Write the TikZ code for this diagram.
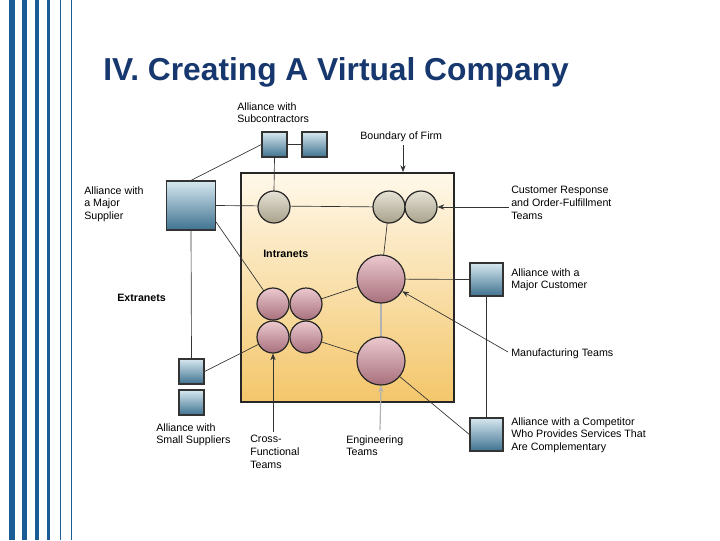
\documentclass[tikz,border=0pt]{standalone}
\usepackage{fontspec}
\setmainfont{Liberation Sans}
\usetikzlibrary{arrows.meta}
\definecolor{stripe}{HTML}{1B5C97}
\definecolor{titlec}{HTML}{17386E}
\definecolor{sqtop}{HTML}{D6E8F0}
\definecolor{sqbot}{HTML}{3F7290}
\definecolor{firmtop}{HTML}{FFF8EA}
\definecolor{firmbot}{HTML}{F3C66A}
\definecolor{greyhi}{HTML}{E6E2D4}
\definecolor{greylo}{HTML}{A8A28C}
\definecolor{pinkhi}{HTML}{EBC9CE}
\definecolor{pinklo}{HTML}{A8707C}
\tikzset{
  sq/.style={draw=black!80, line width=0.9pt, top color=sqtop, bottom color=sqbot, inner sep=0, minimum size=#1},
  gb/.style={circle, draw=black!85, line width=0.9pt, top color=greyhi, bottom color=greylo, inner sep=0, minimum size=32*0.75pt},
  pb/.style={circle, draw=black!85, line width=0.9pt, top color=pinkhi, bottom color=pinklo, inner sep=0, minimum size=#1},
  ln/.style={draw=black!80, line width=0.5pt},
  ar/.style={draw=black!80, line width=0.5pt, -{Stealth[length=5pt,width=4pt]}},
  lbl/.style={font=\fontsize{8}{9.6}\selectfont, align=left, anchor=north west, inner sep=0},
  blbl/.style={font=\fontsize{8}{9.6}\selectfont\bfseries, anchor=west, inner sep=0}
}
\begin{document}
\begin{tikzpicture}[x=0.75pt,y=-0.75pt]
\useasboundingbox (0,0) rectangle (720,540);
\fill[white] (0,0) rectangle (720,540);
\foreach \a/\b in {9/15,22/27,35/39,47/50,60/61.2,71/72}
  \fill[stripe] (\a,0) rectangle (\b,540);
\node[anchor=west, inner sep=0, text=titlec, font=\fontsize{23.8}{26}\selectfont\bfseries] (title) at (103,72) {IV. Creating A Virtual Company};
\path[top color=firmtop, bottom color=firmbot, draw=black!85, line width=1pt] (241,173) rectangle (454,402);
\node[sq=25*0.75pt] (s1) at (274.5,144.5) {};
\node[sq=25*0.75pt] (s2) at (314.5,144.5) {};
\node[sq=49*0.75pt] (ms) at (191,205.5) {};
\node[sq=25*0.75pt] (ss1) at (191.5,371.5) {};
\node[sq=25*0.75pt] (ss2) at (191.5,402.5) {};
\node[sq=33*0.75pt] (mc) at (486.5,279.5) {};
\node[sq=33*0.75pt] (cp) at (486.5,434.5) {};
\draw[ln] (s1) -- (s2);
\draw[ln] (ms.north) -- (s1.west);
\draw[ln] (s1.south) -- (274,191);
\draw[ln] (ms.east) -- (389,207);
\draw[ln] (216,222) -- (273,304);
\draw[ln] (ms.south) -- (ss1.north);
\draw[ln] (ss1.east) -- (273,337);
\draw[ln] (389,207) -- (381,279);
\draw[ln] (306,304) -- (381,279);
\draw[ln] (306,337) -- (381,361);
\draw[draw=black!30, line width=0.8pt] (381,279) -- (381,361);
\draw[ln] (381,279) -- (mc.west);
\draw[ln] (mc.south) -- (cp.north);
\draw[ln] (381,361) -- (cp.west);
\node[gb] (g1) at (274,207) {};
\node[gb] (g2) at (389,207) {};
\node[gb] (g3) at (421,207) {};
\node[pb=48*0.75pt] (b1) at (381,279) {};
\node[pb=48*0.75pt] (b2) at (381,361) {};
\node[pb=32*0.75pt] (p1) at (273,304) {};
\node[pb=32*0.75pt] (p2) at (306,304) {};
\node[pb=32*0.75pt] (p3) at (273,337) {};
\node[pb=32*0.75pt] (p4) at (306,337) {};
\node[lbl] (lsub) at (237,102) {Alliance with\\Subcontractors};
\node[lbl] (lbf) at (360,131) {Boundary of Firm};
\node[lbl] (lms) at (84,186) {Alliance with\\a Major\\Supplier};
\node[blbl] (lext) at (117,298) {Extranets};
\node[blbl] (lint) at (263,254) {Intranets};
\node[lbl] (lss) at (156,423) {Alliance with\\Small Suppliers};
\node[lbl] (lcf) at (250,435) {Cross-\\Functional\\Teams};
\node[lbl] (leng) at (346,435) {Engineering\\Teams};
\node[lbl] (lcr) at (511,186) {Customer Response\\and Order-Fulfillment\\Teams};
\node[lbl] (lmc) at (511,268) {Alliance with a\\Major Customer};
\node[lbl] (lmt) at (511,348) {Manufacturing Teams};
\node[lbl] (lcp) at (511,417) {Alliance with a Competitor\\Who Provides Services That\\Are Complementary};
\coordinate (bfa) at (403,145);
\coordinate (cra) at (509,207);
\coordinate (mta) at (508,352);
\coordinate (cfa) at (273,432);
\coordinate (ena) at (380,430);
\draw[ar] (bfa) -- (403,172);
\draw[ar] (cra) -- (g3.east);
\draw[ar] (mta) -- (b1.-30);
\draw[ar] (cfa) -- (p3.south);
\draw[draw=black!30, line width=0.9pt, -{Stealth[length=5pt,width=4pt]}] (ena) -- (b2.south);
\end{tikzpicture}
\end{document}
